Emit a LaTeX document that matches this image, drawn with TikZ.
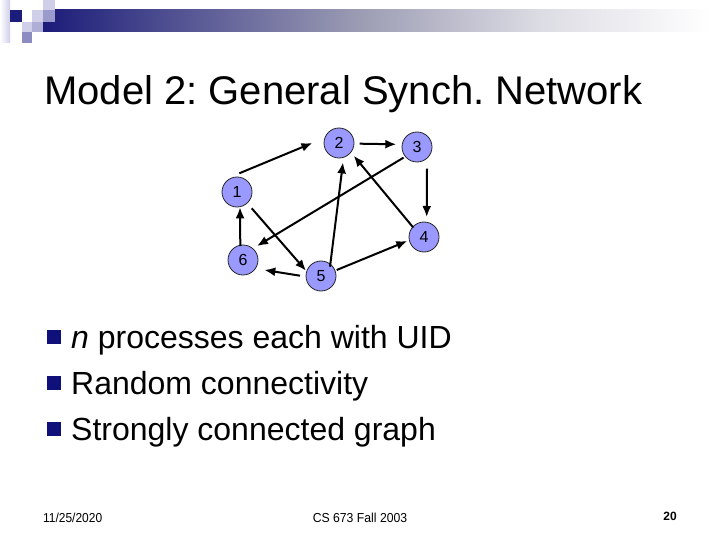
\documentclass[tikz,border=0pt]{standalone}
\usepackage{fontspec}
\setmainfont{Liberation Sans}
\usetikzlibrary{arrows.meta,calc}
\frenchspacing
\definecolor{navy}{HTML}{1C1C7A}
\definecolor{barmid}{HTML}{9C9CB4}
\definecolor{barlight}{HTML}{DCDCE4}
\definecolor{lav}{HTML}{CFCFEA}
\definecolor{lavmid}{HTML}{9A9ACC}
\definecolor{lavdark}{HTML}{8C8CC2}
\definecolor{nodefill}{HTML}{9999FF}
\definecolor{bulletc}{HTML}{10107A}
\tikzset{
  vtx/.style={circle, draw=black!85, line width=0.8pt, fill=nodefill, minimum size=30pt, inner sep=0pt, font=\fontsize{16}{18}\selectfont},
  arr/.style={line width=2pt, -{Latex[length=11pt,width=9pt]}},
  bulsq/.style={rectangle, fill=bulletc, minimum size=14pt, inner sep=0pt},
  btxt/.style={anchor=base west, inner sep=0pt, font=\fontsize{32}{38}\selectfont},
  foot/.style={inner sep=0pt, font=\fontsize{13}{15}\selectfont}
}
\begin{document}
\begin{tikzpicture}[x=1pt,y=-1pt]
\useasboundingbox (0,0) rectangle (720,540);
\fill[white] (0,0) rectangle (720,540);
% header bar
\shade[left color=navy, right color=barmid] (43,10) rectangle (360,32);
\shade[left color=barmid, right color=barlight] (360,10) rectangle (540,32);
\shade[left color=barlight, right color=white] (540,10) rectangle (710,32);
% decorative squares
\shade[left color=white, right color=lav] (0,0) rectangle (10,43);
\fill[navy] (10,10) rectangle (22,22);
\fill[lav] (43,0) rectangle (55,10);
\fill[lav] (32,10) rectangle (43,22);
\fill[lavmid] (43,10) rectangle (55,22);
\fill[lav] (22,22) rectangle (32,32);
\fill[lavmid!80] (32,22) rectangle (43,32);
\fill[lavdark] (22,32) rectangle (32,43);
% title
\node[anchor=base west, inner sep=0pt, font=\fontsize{40}{48}\selectfont] (title) at (44,105) {Model 2: General Synch. Network};
% graph
\node[vtx] (n1) at (237,192) {1};
\node[vtx] (n2) at (339,143) {2};
\node[vtx] (n3) at (417,147) {3};
\node[vtx] (n4) at (424,237) {4};
\node[vtx] (n5) at (321,276) {5};
\node[vtx] (n6) at (243,260) {6};
\draw[arr] ($(n1)+(2.3,-18.7)$) -- ($(n2)+(-26.6,0)$);
\draw[arr] ($(n2)+(20.7,0.7)$) -- ($(n3)+(-20.7,-2.7)$);
\draw[arr] ($(n3)+(10,21.6)$) -- ($(n4)+(2.7,-20)$);
\draw[arr] ($(n3)+(-13.4,10.6)$) -- ($(n6)+(14,-14)$);
\draw[arr] ($(n4)+(-10.7,-9.4)$) -- ($(n2)+(14.7,12.7)$);
\draw[arr] ($(n5)+(9,-9.3)$) -- ($(n2)+(4,19.4)$);
\draw[arr] ($(n1)+(14.7,16.3)$) -- ($(n5)+(-15,-5.3)$);
\draw[arr] ($(n5)+(-21,-0.3)$) -- ($(n6)+(21.3,10)$);
\draw[arr] ($(n5)+(15.7,-6)$) -- ($(n4)+(-16.7,4)$);
\draw[arr] ($(n6)+(-2.7,-14)$) -- ($(n1)+(3,15.3)$);
% bullets
\node[bulsq] (b1) at (54,337) {};
\node[bulsq] (b2) at (54,383) {};
\node[bulsq] (b3) at (54,429) {};
\node[btxt] (t1) at (71,348) {\textit{n} processes each with UID};
\node[btxt] (t2) at (71,394) {Random connectivity};
\node[btxt] (t3) at (71,440) {Strongly connected graph};
% footer
\node[foot, anchor=base west] (date) at (43,522) {\scalebox{0.92}[1]{11/25/2020}};
\node[foot, anchor=base] (course) at (360,522) {\scalebox{0.94}[1]{CS 673 Fall 2003}};
\node[inner sep=0pt, anchor=base east, font=\fontsize{12}{14}\selectfont\bfseries] (page) at (677,520) {20};
\end{tikzpicture}
\end{document}
